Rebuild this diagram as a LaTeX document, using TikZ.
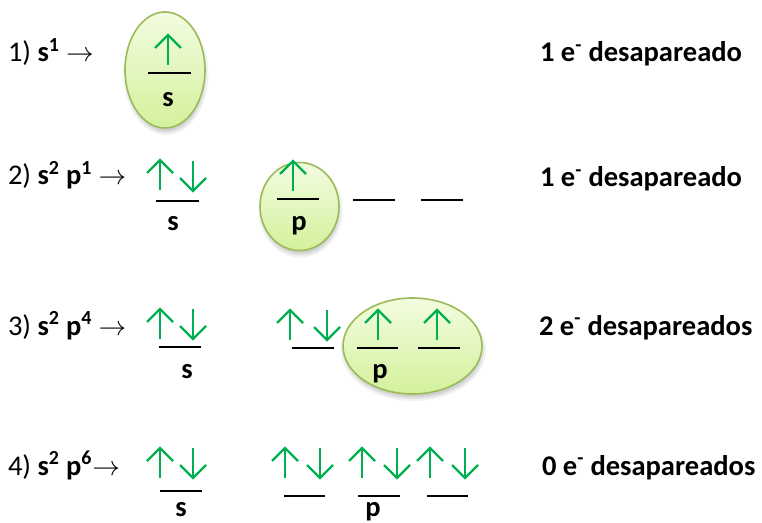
\documentclass[tikz,border=0pt]{standalone}
\usepackage{fontspec}
\setmainfont{Carlito}
\usetikzlibrary{shapes.geometric}
\definecolor{spingreen}{HTML}{00B050}
\definecolor{lobeedge}{HTML}{9BBB59}
\definecolor{lobetop}{HTML}{F3FCE0}
\definecolor{lobebot}{HTML}{D3F19C}
\tikzset{
  txt/.style={font=\fontsize{21.4}{25}\selectfont, inner sep=0pt, outer sep=0pt},
  lbl/.style={txt, anchor=base west},
  orb/.style={txt, font=\fontsize{21.4}{25}\selectfont\bfseries, anchor=base},
  spin/.style={draw=spingreen, line width=1.7pt, line join=miter, line cap=butt},
  level/.style={draw=black, line width=1.5pt},
  lobe/.style={ellipse, draw=lobeedge, line width=1.2pt, top color=lobetop, bottom color=lobebot, inner sep=0pt},
  lobeshadow/.style={ellipse, fill=black, inner sep=0pt},
  up/.pic={\draw[spin] (-13,13) -- (0,0) -- (13,13); \draw[spin] (0,0) -- (0,30);},
  down/.pic={\draw[spin] (0,0) -- (0,30); \draw[spin] (-13,17) -- (0,30) -- (13,17);},
}
% soft shadow under an ellipse: name, centre, x radius, y radius (pixels)
\newcommand{\lobeshade}[4]{%
  \node[lobeshadow, opacity=0.05, minimum width={(2*#3+5)*0.75pt}, minimum height={(2*#4+6)*0.75pt}] (#1a) at #2 {};
  \node[lobeshadow, opacity=0.07, minimum width={(2*#3+1)*0.75pt}, minimum height={(2*#4+2)*0.75pt}] (#1b) at #2 {};
  \node[lobeshadow, opacity=0.07, minimum width={(2*#3-3)*0.75pt}, minimum height={(2*#4-2)*0.75pt}] (#1c) at #2 {};
}
\begin{document}
\begin{tikzpicture}[x=0.75pt, y=-0.75pt]
\useasboundingbox (0,0) rectangle (762,523);

% ---- row 1: s^1
\node[lbl] (l1) at (8,62) {1) \textbf{s\textsuperscript{1}} $\rightarrow$};
\lobeshade{sh1}{(166,74)}{40}{58}
\node[lobe, minimum width=80*0.75pt, minimum height=116*0.75pt] (e1) at (165,70) {};
\pic at (168,35) {up};
\coordinate (a1) at (148,73); \coordinate (b1) at (191,73);
\draw[level] (a1) -- (b1);
\node[orb] (s1) at (168,107) {s};
\node[lbl] (r1) at (540,62) {\textbf{1 e\textsuperscript{-} desapareado}};

% ---- row 2: s^2 p^1
\node[lbl] (l2) at (8,185) {2) \textbf{s\textsuperscript{2} p\textsuperscript{1}} $\rightarrow$};
\pic at (160,160) {up};
\pic at (193,161) {down};
\coordinate (a2) at (156,201); \coordinate (b2) at (199,201);
\draw[level] (a2) -- (b2);
\node[orb] (s2) at (173,231) {s};
\lobeshade{sh2}{(300.5,210.5)}{39.5}{44}
\node[lobe, minimum width=79*0.75pt, minimum height=88*0.75pt] (e2) at (299.5,206.5) {};
\pic at (293,161) {up};
\coordinate (a3) at (277,199); \coordinate (b3) at (319,199);
\draw[level] (a3) -- (b3);
\node[orb] (p2) at (299,231) {p};
\coordinate (a4) at (353,200); \coordinate (b4) at (395,200);
\draw[level] (a4) -- (b4);
\coordinate (a5) at (421,200); \coordinate (b5) at (463,200);
\draw[level] (a5) -- (b5);
\node[lbl] (r2) at (540,187) {\textbf{1 e\textsuperscript{-} desapareado}};

% ---- row 3: s^2 p^4
\node[lbl] (l3) at (8,335) {3) \textbf{s\textsuperscript{2} p\textsuperscript{4}} $\rightarrow$};
\pic at (160,309) {up};
\pic at (193,309) {down};
\coordinate (a6) at (159,347); \coordinate (b6) at (201,347);
\draw[level] (a6) -- (b6);
\node[orb] (s3) at (187,378) {s};
\lobeshade{sh3}{(413.5,350)}{70}{48}
\node[lobe, minimum width=139*0.75pt, minimum height=96*0.75pt] (e3) at (412.5,346) {};
\pic at (290,310) {up};
\pic at (327,310) {down};
\coordinate (a7) at (292,348); \coordinate (b7) at (334,348);
\draw[level] (a7) -- (b7);
\pic at (378,310) {up};
\coordinate (a8) at (357,348); \coordinate (b8) at (398,348);
\draw[level] (a8) -- (b8);
\pic at (437,310) {up};
\coordinate (a9) at (418,348); \coordinate (b9) at (460,348);
\draw[level] (a9) -- (b9);
\node[orb] (p3) at (380,378) {p};
\node[lbl] (r3) at (539,335) {\textbf{2 e\textsuperscript{-} desapareados}};

% ---- row 4: s^2 p^6
\node[lbl] (l4) at (8,475) {4) \textbf{s\textsuperscript{2} p\textsuperscript{6}}$\rightarrow$};
\pic at (160,448) {up};
\pic at (193,448) {down};
\coordinate (a10) at (160,491); \coordinate (b10) at (202,491);
\draw[level] (a10) -- (b10);
\node[orb] (s4) at (181,516) {s};
\pic at (285,448) {up};
\pic at (320,448) {down};
\coordinate (a11) at (284,496); \coordinate (b11) at (325,496);
\draw[level] (a11) -- (b11);
\pic at (362,448) {up};
\pic at (397,448) {down};
\coordinate (a12) at (358,496); \coordinate (b12) at (400,496);
\draw[level] (a12) -- (b12);
\pic at (430,448) {up};
\pic at (465,448) {down};
\coordinate (a13) at (427,496); \coordinate (b13) at (468,496);
\draw[level] (a13) -- (b13);
\node[orb] (p4) at (373,516) {p};
\node[lbl] (r4) at (542,475) {\textbf{0 e\textsuperscript{-} desapareados}};
\end{tikzpicture}
\end{document}
